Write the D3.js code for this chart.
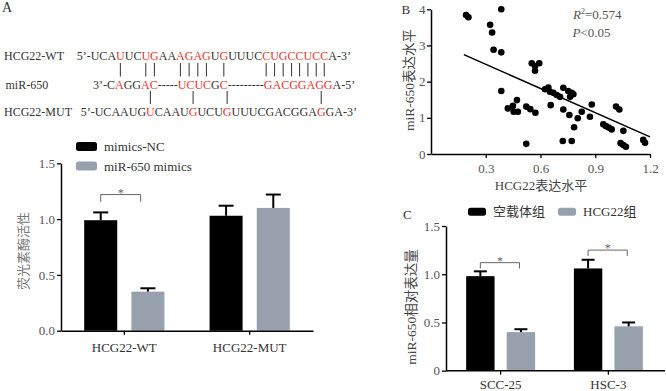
<!DOCTYPE html>
<html>
<head>
<meta charset="utf-8">
<script src="https://cdn.jsdelivr.net/npm/d3@7"></script>
<style>
    body { margin: 0; background: #fff; }
    svg { display: block; font-family: "Liberation Serif", "Times New Roman", "Noto Sans CJK SC", serif; }
</style>
</head>
<body>
<svg id="fig" width="666" height="391"></svg>
<script>
(function () {
    'use strict';

    // ---- panel A, sequences ----
    const seqNames = ["HCG22-WT", "miR-650", "HCG22-MUT"];
    const seqTexts = [
        "5’-UCAUUCUGAAAGAGUGUUUCCUGCCUCCA-3’",
        "3’-CAGGAC-----UCUCGC---------GACGGAGGA-5’",
        "5’-UCAAUGUCAAUGUCUGUUUCGACGGAGGA-3’"
    ];
    const seqRed = [
        [6, 9, 10, 13, 14, 15, 16, 18, 23, 24, 25, 26, 27, 28, 29, 30],
        [4, 7, 8, 14, 15, 16, 17, 19, 29, 30, 31, 32, 33, 34, 35, 36],
        [9, 14, 18, 29]
    ];

    // ---- panel A, luciferase bars ----
    const groupsA = ["HCG22-WT", "HCG22-MUT"];
    const seriesA = ["mimics-NC", "miR-650 mimics"];
    const meanA = [[0.99, 0.35], [1.03, 1.10]];
    const errA = [[0.07, 0.03], [0.09, 0.12]];
    const sigA = [{ group: "HCG22-WT", level: 1.22, drop: 0.065 }];

    // ---- panel B, scatter ----
    const hcg22 = [0.192, 0.205, 0.385, 0.324, 0.335, 0.343, 0.385, 0.385, 0.421, 0.449, 0.453, 0.471, 0.476,
        0.522, 0.544, 0.572, 0.522, 0.552, 0.570, 0.593, 0.570, 0.625, 0.643, 0.652, 0.670, 0.689, 0.707,
        0.725, 0.752, 0.771, 0.762, 0.780, 0.656, 0.725, 0.758, 0.826, 0.804, 0.784, 0.881, 0.871, 0.722,
        0.771, 1.014, 1.032, 0.944, 0.959, 0.974, 0.990, 1.054, 1.039, 1.054, 1.068, 1.163, 1.173];
    const mir650 = [3.84, 3.78, 4.00, 3.57, 3.36, 2.88, 2.81, 1.74, 1.26, 1.33, 1.17, 1.49, 1.17,
        1.31, 1.24, 1.14, 0.28, 2.51, 2.43, 2.51, 2.30, 1.79, 1.84, 1.72, 1.69, 1.63, 1.58,
        1.83, 1.74, 1.69, 1.58, 1.65, 1.35, 1.23, 1.08, 1.17, 0.99, 0.74, 1.37, 1.03, 0.36,
        0.36, 1.31, 1.23, 0.82, 0.77, 0.73, 0.68, 0.64, 0.30, 0.25, 0.20, 0.39, 0.31];
    const fitRange = [0.18, 1.2];
    const fitSlope = -2.23;
    const fitIntercept = 3.15;
    const ticksBx = [0.3, 0.6, 0.9, 1.2];
    const ticksBy = [0, 1, 2, 3, 4];

    // ---- panel C, qPCR bars ----
    const groupsC = ["SCC-25", "HSC-3"];
    const seriesC = ["空载体组", "HCG22组"];
    const meanC = [[0.98, 0.40], [1.06, 0.46]];
    const errC = [[0.05, 0.03], [0.09, 0.04]];
    const sigC = [{ group: "SCC-25", level: 1.12, drop: 0.06 }, { group: "HSC-3", level: 1.25, drop: 0.06 }];

    const ticksBar = [0, 0.5, 1.0, 1.5];
    const colors = ["#000000", "#97a1ad"];
    const ink = "#333";
    const tickInk = "#555";

    const svg = d3.select("#fig");

    // ===== A: sequence alignment =====
    svg.append("text").attr("x", 2).attr("y", 12).attr("font-size", 14).attr("fill", ink).text("A");

    const seqBase = [60, 88.5, 116];
    const seqStart = [76.7, 93, 80.7];
    const seqNodes = [];

    seqTexts.forEach((s, r) => {
        svg.append("text")
            .attr("x", r === 1 ? 5.5 : 4)
            .attr("y", seqBase[r])
            .attr("font-size", 12)
            .attr("fill", ink)
            .text(seqNames[r]);

        const t = svg.append("text")
            .attr("x", seqStart[r])
            .attr("y", seqBase[r])
            .attr("font-size", 12);

        t.selectAll("tspan")
            .data(s.split(""))
            .enter()
            .append("tspan")
            .attr("fill", (d, i) => seqRed[r].includes(i) ? "#e8352e" : ink)
            .text(d => d);

        seqNodes.push(t.node());
    });

    const charMid = (node, i) => {
        const b = node.getExtentOfChar(i);
        return b.x + b.width / 2;
    };

    seqRed[0].forEach(i => {
        const cx = charMid(seqNodes[0], i);
        svg.append("line").attr("x1", cx).attr("x2", cx).attr("y1", 63).attr("y2", 76.5)
            .attr("stroke", "#444").attr("stroke-width", 1.1);
    });
    seqRed[2].forEach(i => {
        const cx = charMid(seqNodes[2], i);
        svg.append("line").attr("x1", cx).attr("x2", cx).attr("y1", 91).attr("y2", 104)
            .attr("stroke", "#444").attr("stroke-width", 1.1);
    });

    // ===== bar chart helper =====
    function styleAxis(a) {
        a.attr("font-family", null).attr("font-size", null);
        a.select(".domain").attr("stroke", "#000").attr("stroke-width", 1.5);
        a.selectAll(".tick line").attr("stroke", "#000").attr("stroke-width", 1.3);
        a.selectAll("text").attr("font-size", 13);
    }

    function barPanel(cfg) {
        const g = svg.append("g");

        const y = d3.scaleLinear().domain([0, 1.5]).range([cfg.y0, cfg.y1]);
        const x = d3.scaleBand().domain(cfg.groups).range([cfg.x0, cfg.x1])
            .paddingInner(0.36).paddingOuter(cfg.po);
        const xs = d3.scaleBand().domain(d3.range(cfg.series.length)).range([0, x.bandwidth()]).paddingInner(0.3);

        const rows = [];
        cfg.groups.forEach((grp, gi) => {
            cfg.series.forEach((s, si) => {
                rows.push({ grp: grp, si: si, v: cfg.mean[gi][si], e: cfg.err[gi][si] });
            });
        });

        g.selectAll("rect.bar")
            .data(rows)
            .enter()
            .append("rect")
            .attr("class", "bar")
            .attr("x", d => x(d.grp) + xs(d.si))
            .attr("y", d => y(d.v))
            .attr("width", xs.bandwidth())
            .attr("height", d => y(0) - y(d.v))
            .attr("fill", d => colors[d.si]);

        const eb = g.selectAll("g.err").data(rows).enter().append("g")
            .attr("stroke", "#000").attr("stroke-width", 2);
        eb.append("line")
            .attr("x1", d => x(d.grp) + xs(d.si) + xs.bandwidth() / 2)
            .attr("x2", d => x(d.grp) + xs(d.si) + xs.bandwidth() / 2)
            .attr("y1", d => y(d.v))
            .attr("y2", d => y(d.v + d.e));
        eb.append("line")
            .attr("x1", d => x(d.grp) + xs(d.si) + xs.bandwidth() / 2 - cfg.cap / 2)
            .attr("x2", d => x(d.grp) + xs(d.si) + xs.bandwidth() / 2 + cfg.cap / 2)
            .attr("y1", d => y(d.v + d.e))
            .attr("y2", d => y(d.v + d.e));

        // significance brackets
        cfg.sig.forEach(s => {
            const xa = x(s.group) + xs(0) + xs.bandwidth() / 2;
            const xb = x(s.group) + xs(1) + xs.bandwidth() * cfg.sigEnd;
            const path = d3.path();
            path.moveTo(xa, y(s.level - s.drop));
            path.lineTo(xa, y(s.level));
            path.lineTo(xb, y(s.level));
            path.lineTo(xb, y(s.level - s.drop));
            g.append("path").attr("d", path.toString()).attr("fill", "none")
                .attr("stroke", "#666").attr("stroke-width", 1);
            g.append("text")
                .attr("x", (xa + xb) / 2)
                .attr("y", y(s.level) + 2)
                .attr("text-anchor", "middle")
                .attr("font-size", 12)
                .attr("fill", "#666")
                .text("*");
        });

        const yAxis = g.append("g")
            .attr("transform", `translate(${cfg.x0},0)`)
            .call(d3.axisLeft(y).tickValues(ticksBar).tickSize(4).tickSizeOuter(0).tickPadding(2)
                .tickFormat(cfg.yFormat));
        const xAxis = g.append("g")
            .attr("transform", `translate(0,${cfg.y0})`)
            .call(d3.axisBottom(x).tickSize(4).tickSizeOuter(0).tickPadding(cfg.xPad));

        styleAxis(yAxis);
        styleAxis(xAxis);
        yAxis.selectAll("text").attr("fill", tickInk);
        xAxis.selectAll("text").attr("fill", ink);
        if (cfg.xTop) {
            xAxis.select(".domain").attr("d", `M${cfg.x0},0H${cfg.xTop}`);
        }

        // legend
        cfg.series.forEach((s, si) => {
            const lx = cfg.legend[si][0];
            const ly = cfg.legend[si][1];
            g.append("rect").attr("x", lx).attr("y", ly)
                .attr("width", cfg.legendBox[0]).attr("height", cfg.legendBox[1])
                .attr("rx", 2.5).attr("fill", colors[si]);
            g.append("text")
                .attr("x", lx + cfg.legendBox[0] + cfg.legendGap)
                .attr("y", ly + cfg.legendBox[1])
                .attr("font-size", 13)
                .attr("fill", ink)
                .text(s);
        });

        g.append("text")
            .attr("transform", `translate(${cfg.ylabel[0]},${cfg.ylabel[1]}) rotate(-90)`)
            .attr("text-anchor", "middle")
            .attr("font-size", cfg.ylabelSize)
            .attr("fill", cfg.ylabelInk)
            .text(cfg.ylabelText);
    }

    barPanel({
        groups: groupsA, series: seriesA, mean: meanA, err: errA, sig: sigA,
        x0: 61, x1: 313, y0: 330.7, y1: 163.3, po: 0.185, cap: 15, sigEnd: 0.28,
        xPad: 8, yFormat: d3.format(".1f"),
        legend: [[76, 142], [76, 161.5]], legendBox: [21, 9], legendGap: 7,
        ylabel: [28, 251], ylabelSize: 13, ylabelInk: "#777", ylabelText: "荧光素酶活性"
    });

    barPanel({
        groups: groupsC, series: seriesC, mean: meanC, err: errC, sig: sigC,
        x0: 446, x1: 663, xTop: 665, y0: 370.7, y1: 226, po: 0.187, cap: 13, sigEnd: 0.45,
        xPad: 5, yFormat: d => d === 0 ? "0" : d3.format(".1f")(d),
        legend: [[468, 207.7], [558, 207.7]], legendBox: [18, 8], legendGap: 7,
        ylabel: [416, 307], ylabelSize: 13.5, ylabelInk: "#444", ylabelText: "miR-650相对表达量"
    });

    svg.append("text").attr("x", 403).attr("y", 219).attr("font-size", 13).attr("fill", ink).text("C");

    // ===== B: scatter =====
    const gB = svg.append("g");
    const xB = d3.scaleLinear().domain([0, 1.2]).range([431, 650]);
    const yB = d3.scaleLinear().domain([0, 4]).range([154, 9.3]);

    const pts = hcg22.map((v, i) => ({ x: v, y: mir650[i] }));

    gB.selectAll("circle")
        .data(pts)
        .enter()
        .append("circle")
        .attr("cx", d => xB(d.x))
        .attr("cy", d => yB(d.y))
        .attr("r", 3.3)
        .attr("fill", "#000");

    const fitLine = d3.line()
        .x(d => xB(d))
        .y(d => yB(fitIntercept + fitSlope * d));
    gB.append("path")
        .attr("d", fitLine(fitRange))
        .attr("fill", "none")
        .attr("stroke", "#000")
        .attr("stroke-width", 1.5);

    const yAxB = gB.append("g").attr("transform", "translate(431,0)")
        .call(d3.axisLeft(yB).tickValues(ticksBy).tickSize(4).tickSizeOuter(0).tickPadding(1.5)
            .tickFormat(d3.format("d")));
    const xAxB = gB.append("g").attr("transform", "translate(0,154)")
        .call(d3.axisBottom(xB).tickValues(ticksBx).tickSize(4).tickSizeOuter(0).tickPadding(6)
            .tickFormat(d3.format(".1f")));

    styleAxis(yAxB);
    styleAxis(xAxB);
    yAxB.selectAll("text").attr("fill", tickInk);
    xAxB.selectAll("text").attr("fill", tickInk);

    gB.append("text").attr("x", 401.5).attr("y", 13.5).attr("font-size", 13).attr("fill", ink).text("B");

    const r2 = gB.append("text").attr("x", 573).attr("y", 18.5).attr("font-size", 13).attr("fill", "#555");
    r2.append("tspan").attr("font-style", "italic").text("R");
    r2.append("tspan").attr("font-size", 8).attr("dy", -5).text("2");
    r2.append("tspan").attr("dy", 5).text("=0.574");

    const pv = gB.append("text").attr("x", 572.5).attr("y", 36.7).attr("font-size", 13).attr("fill", "#555");
    pv.append("tspan").attr("font-style", "italic").text("P");
    pv.append("tspan").text("<0.05");

    gB.append("text")
        .attr("transform", "translate(414,80) rotate(-90)")
        .attr("text-anchor", "middle")
        .attr("font-size", 13.5)
        .attr("fill", "#444")
        .text("miR-650表达水平");

    gB.append("text")
        .attr("x", 541)
        .attr("y", 190)
        .attr("text-anchor", "middle")
        .attr("font-size", 13)
        .attr("fill", "#444")
        .text("HCG22表达水平");

})();
</script>
</body>
</html>
